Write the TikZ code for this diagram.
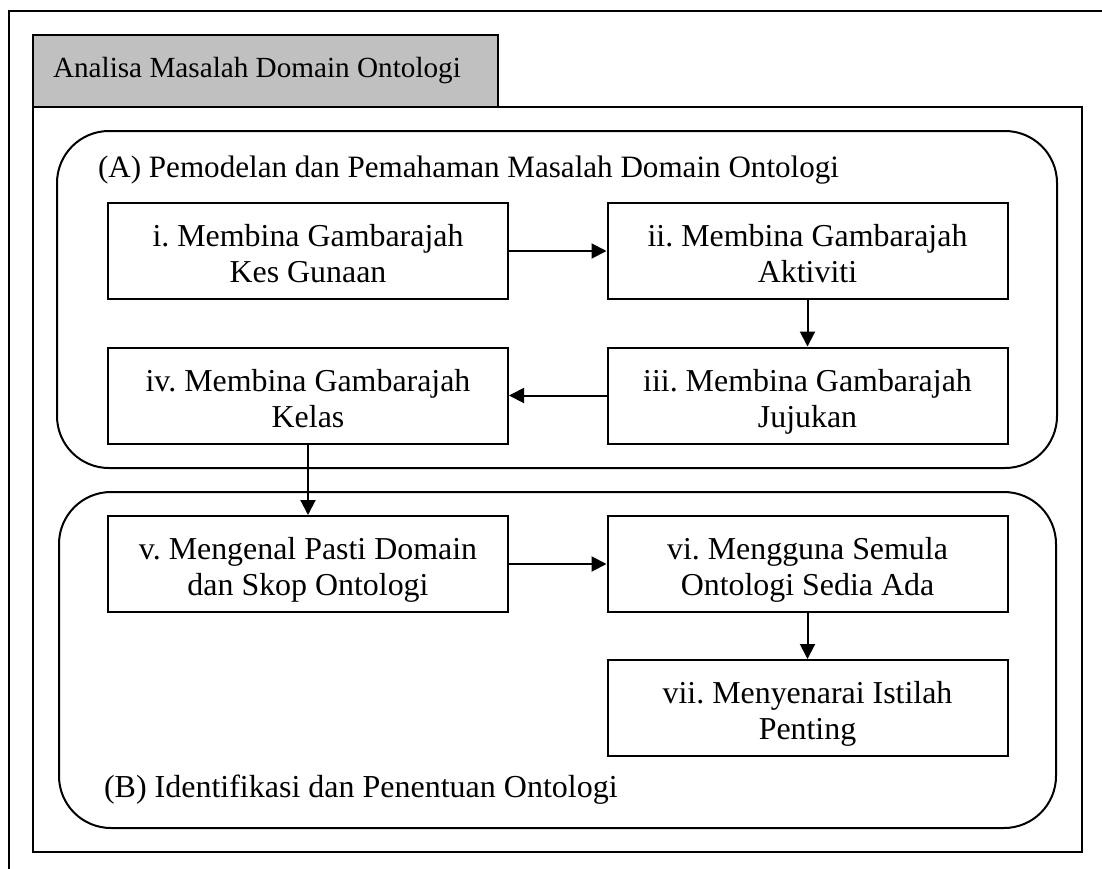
\documentclass[tikz,border=0pt]{standalone}
\usepackage{fontspec}
\setmainfont{Liberation Serif}
\usetikzlibrary{arrows.meta}
\definecolor{tabgray}{HTML}{C0C0C0}
\frenchspacing
\begin{document}
\begin{tikzpicture}[x=1pt,y=-1pt,line width=2pt,
  every node/.style={inner sep=0pt},
  titletext/.style={font=\fontsize{29.2}{35}\selectfont},
  grouptext/.style={font=\fontsize{31.1}{36}\selectfont},
  stepbox/.style={draw, minimum width=400pt, minimum height=96pt, align=center,
    font=\fontsize{31.9}{36}\selectfont, text height=63pt, text depth=0pt},
  group/.style={draw, rounded corners=52pt},
  flow/.style={-{Triangle[length=15pt,width=15pt]}}]
  \useasboundingbox (0,0) rectangle (1102,868);
  \clip (0,0) rectangle (1102,868);
  % outer page frame (runs past the right and bottom edges)
  \draw (9,11) rectangle (1130,900);
  % title tab and content frame
  \draw[fill=tabgray] (33,35) rectangle (498,107);
  \node[titletext, anchor=base west] (title) at (52,77) {Analisa Masalah Domain Ontologi};
  \draw (33,107) rectangle (1082,852);
  % phase groups
  \draw[group] (57,131) rectangle (1057,468);
  \draw[group] (59,492) rectangle (1056,828);
  \node[grouptext, anchor=base west] (labA) at (97,177) {(A) Pemodelan dan Pemahaman Masalah Domain Ontologi};
  \node[grouptext, font=\fontsize{32}{36}\selectfont, anchor=base west] (labB) at (103,797) {(B) Identifikasi dan Penentuan Ontologi};
  % steps
  \node[stepbox] (s1) at (308,251) {i. Membina Gambarajah\\Kes Gunaan};
  \node[stepbox] (s2) at (807.5,251) {ii. Membina Gambarajah\\Aktiviti};
  \node[stepbox] (s3) at (807.5,395.5) {iii. Membina Gambarajah\\Jujukan};
  \node[stepbox] (s4) at (308,395.5) {iv. Membina Gambarajah\\Kelas};
  \node[stepbox] (s5) at (308,564) {v. Mengenal Pasti Domain\\dan Skop Ontologi};
  \node[stepbox] (s6) at (807.5,564) {vi. Mengguna Semula\\Ontologi Sedia Ada};
  \node[stepbox] (s7) at (807.5,708) {vii. Menyenarai Istilah\\Penting};
  % flow between steps
  \draw[flow] (s1) -- (s2);
  \draw[flow] (s2) -- (s3);
  \draw[flow] (s3) -- (s4);
  \draw[flow] (s4) -- (s5);
  \draw[flow] (s5) -- (s6);
  \draw[flow] (s6) -- (s7);
\end{tikzpicture}
\end{document}
